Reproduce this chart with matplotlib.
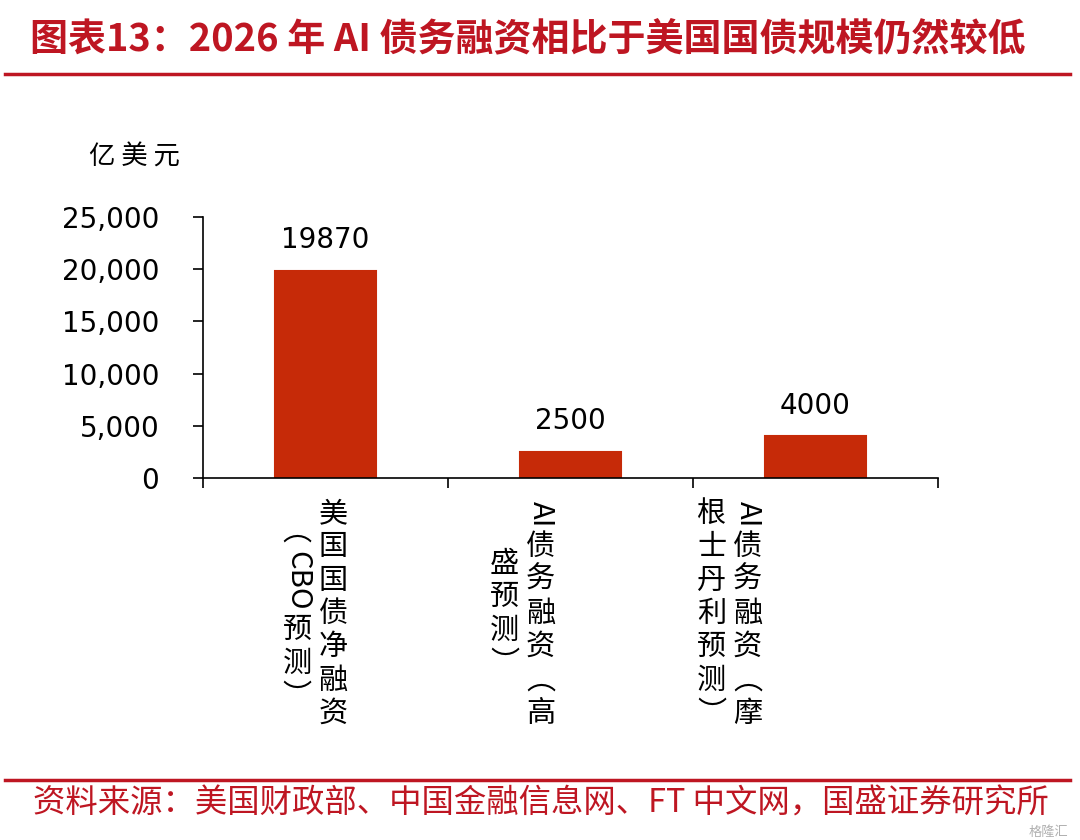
import matplotlib
matplotlib.use("Agg")
import matplotlib.pyplot as plt
from matplotlib.font_manager import FontProperties

categories = ["美国国债净融资（CBO预测）", "AI债务融资（高盛预测）", "AI债务融资（摩根士丹利预测）"]
label_lines = [["美国国债净融资", "（CBO预测）"],
               ["AI债务融资（高", "盛预测）"],
               ["AI债务融资（摩", "根士丹利预测）"]]
values = [19870, 2500, 4000]
yticks = [0, 5000, 10000, 15000, 20000, 25000]
ytick_labels = ["0", "5,000", "10,000", "15,000", "20,000", "25,000"]

title = "图表13：2026 年 AI 债务融资相比于美国国债规模仍然较低"
source = "资料来源：美国财政部、中国金融信息网、FT 中文网，国盛证券研究所"
unit = "亿 美 元"

RED = "#BE1622"
BAR = "#C62A08"
CJK = ["Noto Sans CJK SC", "DejaVu Sans"]

W, H = 1080, 840
fig = plt.figure(figsize=(10.8, 8.4), dpi=100)


def fx(px):
    return px / W


def fy(py):
    return 1 - py / H


# red rules under the title and above the source
fig.add_artist(plt.Line2D([fx(5), fx(1070)], [fy(74), fy(74)], color=RED, lw=2.5))
fig.add_artist(plt.Line2D([fx(5), fx(1070)], [fy(780), fy(780)], color=RED, lw=2.5))

fig.text(fx(30), fy(40), title, family=CJK, fontsize=27.4, fontweight="bold",
         color=RED, ha="left", va="center")
fig.text(fx(33), fy(804), source, family=CJK, fontsize=23.3, color=RED,
         ha="left", va="center")
fig.text(fx(1048), fy(832), "格隆汇", family=CJK, fontsize=9.5, color="#b0b0b0",
         ha="center", va="center")

ax = fig.add_axes([fx(203), fy(478), fx(938) - fx(203), (478 - 217) / H])
x = list(range(len(values)))
bars = ax.bar(x, values, width=0.41, color=BAR, edgecolor=BAR, lw=1.5)
ax.set_xlim(-0.5, 2.5)
ax.set_ylim(0, 25000)
ax.set_yticks(yticks)
ax.set_yticklabels(ytick_labels)
ax.set_xticks([-0.5, 0.5, 1.5, 2.5])
ax.set_xticklabels([])
for s in ["top", "right"]:
    ax.spines[s].set_visible(False)
for s in ["left", "bottom"]:
    ax.spines[s].set_linewidth(1.2)
ax.tick_params(axis="y", direction="out", length=7.5, width=1.2, pad=24, labelsize=20)
ax.tick_params(axis="x", direction="out", length=7.5, width=1.2)
ax.bar_label(bars, labels=[str(v) for v in values], padding=12, fontsize=20)

fig.text(fx(134), fy(157), unit, family=CJK, fontsize=19, ha="center", va="center")

# vertical category labels: CJK upright, latin turned, brackets in vertical form
fs_lab = 21
prop = FontProperties(family=CJK, size=fs_lab)
renderer = fig.canvas.get_renderer()
pitch = 33.4
gap = 6
col_gap = 36
shift = [7.5, -30, -68]
mid_y = 614
vert_forms = {"（": "︵", "）": "︶"}


def tokens(s):
    out = []
    run = ""
    for ch in s:
        if ch.isascii():
            run += ch
        else:
            if run:
                out.append((run, True))
                run = ""
            out.append((vert_forms.get(ch, ch), False))
    if run:
        out.append((run, True))
    return out


for i, lines in enumerate(label_lines):
    cx = ax.transData.transform((i, 0))[0]
    for j, line in enumerate(lines):
        colx = cx + shift[i] - j * col_gap
        toks = tokens(line)
        advs = []
        for t, rot in toks:
            if rot:
                w = renderer.get_text_width_height_descent(t, prop, ismath=False)[0]
                advs.append(w + gap)
            else:
                advs.append(pitch)
        y = mid_y - sum(advs) / 2
        for (t, rot), a in zip(toks, advs):
            fig.text(fx(colx), fy(y + a / 2), t, family=CJK, fontsize=fs_lab,
                     rotation=270 if rot else 0, ha="center", va="center")
            y += a

fig.savefig("out.png", dpi=100)
